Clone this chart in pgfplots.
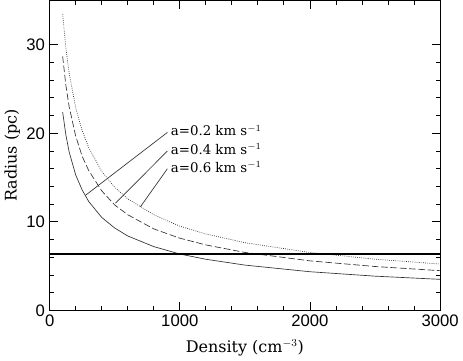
\documentclass[border=0pt]{standalone}
\usepackage{fontspec}
\setmainfont{DejaVu Serif}
\newfontfamily\tickfont{Liberation Sans}
\usepackage{pgfplots}
\pgfplotsset{compat=1.18}

\begin{document}
\begin{tikzpicture}
\begin{axis}[
    scale only axis,
    width=293pt, height=232.5pt,
    xmin=0, xmax=3000,
    ymin=0, ymax=35,
    xtick={0,1000,2000,3000},
    ytick={0,10,20,30},
    minor x tick num=4,
    minor y tick num=4,
    tick align=inside,
    major tick length=6pt,
    minor tick length=3pt,
    every tick/.style={black, line width=0.6pt},
    axis line style={line width=0.8pt},
    scaled x ticks=false,
    /pgf/number format/assume math mode=true,
    /pgf/number format/1000 sep={},
    ticklabel style={font=\tickfont\fontsize{12.5}{14}\selectfont},
    xlabel={Density (cm$^{-3}$)},
    ylabel={Radius (pc)},
    label style={font=\fontsize{12}{14}\selectfont},
    xlabel style={yshift=-3pt},
    ylabel style={yshift=-2pt},
    clip=false,
]
% a=0.2 (solid)
\addplot[black!80, line width=0.5pt] coordinates {
(100,22.4)(125,19.8)(150,17.9)(200,15.3)(250,13.6)(300,12.3)(400,10.5)
(500,9.3)(600,8.4)(800,7.2)(1000,6.36)(1200,5.77)(1500,5.11)(2000,4.36)
(2500,3.86)(3000,3.50)
};
% a=0.4 (dashed)
\addplot[black!80, line width=0.5pt, dash pattern=on 5pt off 2pt] coordinates {
(100,28.7)(125,25.4)(150,23.0)(200,19.7)(250,17.4)(300,15.8)(400,13.5)
(500,11.9)(600,10.8)(800,9.2)(1000,8.15)(1200,7.39)(1500,6.54)(2000,5.59)
(2500,4.95)(3000,4.48)
};
% a=0.6 (dotted)
\addplot[black!80, line width=0.5pt, dash pattern=on 0.6pt off 1pt] coordinates {
(100,33.5)(125,29.6)(150,26.8)(200,22.9)(250,20.3)(300,18.4)(400,15.7)
(500,13.9)(600,12.6)(800,10.8)(1000,9.51)(1200,8.63)(1500,7.64)(2000,6.53)
(2500,5.78)(3000,5.23)
};
% horizontal level
\addplot[black, line width=1.5pt] coordinates {(0,6.4)(3000,6.4)};
% pointer lines
\addplot[black!80, line width=0.5pt] coordinates {(905,20.1)(276,13.0)};
\addplot[black!80, line width=0.5pt] coordinates {(905,18.0)(506,12.1)};
\addplot[black!80, line width=0.5pt] coordinates {(905,16.0)(698,11.7)};
\node[anchor=west, font=\fontsize{10}{12}\selectfont, inner sep=1pt] at (axis cs:920,20.3) {a=0.2 km s$^{-1}$};
\node[anchor=west, font=\fontsize{10}{12}\selectfont, inner sep=1pt] at (axis cs:920,18.2) {a=0.4 km s$^{-1}$};
\node[anchor=west, font=\fontsize{10}{12}\selectfont, inner sep=1pt] at (axis cs:920,16.2) {a=0.6 km s$^{-1}$};
\end{axis}
\end{tikzpicture}
\end{document}
